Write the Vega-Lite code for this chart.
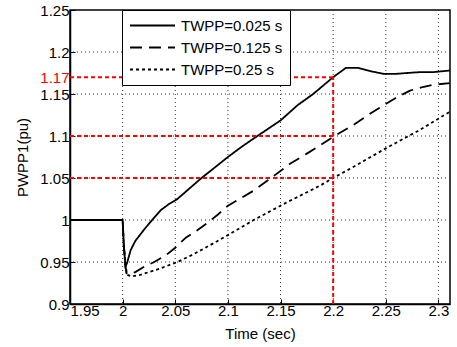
{
  "$schema": "https://vega.github.io/schema/vega-lite/v6.json",
  "width": 380,
  "height": 294,
  "autosize": {"type": "none"},
  "padding": {"left": 70, "top": 10, "right": 7, "bottom": 43},
  "background": "white",
  "config": {
    "view": {"stroke": "black", "strokeWidth": 1.5},
    "font": "Liberation Sans",
    "axis": {
      "grid": false,
      "domainColor": "black",
      "domainWidth": 1.5,
      "tickColor": "black",
      "tickSize": -5,
      "labelFont": "Liberation Sans",
      "labelFontSize": 15,
      "labelColor": "black",
      "labelOverlap": false,
      "titleFont": "Liberation Sans",
      "titleFontSize": 15,
      "titleFontWeight": "normal",
      "titleColor": "black",
      "zindex": 1
    }
  },
  "layer": [
    {
      "data": {"values": [{"gx": 2.0}, {"gx": 2.05}, {"gx": 2.1}, {"gx": 2.15}, {"gx": 2.2}, {"gx": 2.25}, {"gx": 2.3}]},
      "mark": {"type": "rule", "color": "#333333", "strokeWidth": 1, "strokeDash": [1, 3]},
      "encoding": {
        "x": {
          "field": "gx",
          "type": "quantitative",
          "scale": {"domain": [1.95, 2.311], "nice": false, "zero": false},
          "axis": {
            "title": "Time (sec)",
            "values": [1.95, 2, 2.05, 2.1, 2.15, 2.2, 2.25, 2.3],
            "format": ".3~g",
            "labelOverlap": false,
            "labelPadding": 4,
            "titlePadding": 8,
            "labelAlign": {"condition": {"test": "datum.value < 1.96", "value": "left"}, "value": "center"}
          }
        }
      }
    },
    {
      "data": {"values": [{"gy": 0.95}, {"gy": 1.0}, {"gy": 1.05}, {"gy": 1.1}, {"gy": 1.15}, {"gy": 1.2}]},
      "mark": {"type": "rule", "color": "#333333", "strokeWidth": 1, "strokeDash": [1, 3]},
      "encoding": {
        "y": {
          "field": "gy",
          "type": "quantitative",
          "scale": {"domain": [0.9, 1.25], "nice": false, "zero": false},
          "axis": {
            "title": "PWPP1(pu)",
            "values": [0.9, 0.95, 1, 1.05, 1.1, 1.15, 1.17, 1.2, 1.25],
            "format": ".3~g",
            "labelOverlap": false,
            "labelPadding": 6,
            "titlePadding": 9,
            "labelColor": {"condition": {"test": "abs(datum.value - 1.17) < 0.001", "value": "red"}, "value": "black"},
            "tickOpacity": {"condition": {"test": "abs(datum.value - 1.17) < 0.001", "value": 0}, "value": 1}
          }
        }
      }
    },
    {
      "data": {
        "values": [
          {"s": "TWPP=0.025 s", "t": 1.95, "p": 1.0},
          {"s": "TWPP=0.025 s", "t": 2.0, "p": 1.0},
          {"s": "TWPP=0.025 s", "t": 2.001, "p": 0.975},
          {"s": "TWPP=0.025 s", "t": 2.0025, "p": 0.945},
          {"s": "TWPP=0.025 s", "t": 2.004, "p": 0.948},
          {"s": "TWPP=0.025 s", "t": 2.0076, "p": 0.964},
          {"s": "TWPP=0.025 s", "t": 2.012, "p": 0.975},
          {"s": "TWPP=0.025 s", "t": 2.02, "p": 0.988},
          {"s": "TWPP=0.025 s", "t": 2.028, "p": 1.0},
          {"s": "TWPP=0.025 s", "t": 2.036, "p": 1.0115},
          {"s": "TWPP=0.025 s", "t": 2.044, "p": 1.019},
          {"s": "TWPP=0.025 s", "t": 2.052, "p": 1.025},
          {"s": "TWPP=0.025 s", "t": 2.063, "p": 1.037},
          {"s": "TWPP=0.025 s", "t": 2.074, "p": 1.049},
          {"s": "TWPP=0.025 s", "t": 2.087, "p": 1.062},
          {"s": "TWPP=0.025 s", "t": 2.1, "p": 1.075},
          {"s": "TWPP=0.025 s", "t": 2.114, "p": 1.088},
          {"s": "TWPP=0.025 s", "t": 2.128, "p": 1.1},
          {"s": "TWPP=0.025 s", "t": 2.15, "p": 1.1185},
          {"s": "TWPP=0.025 s", "t": 2.166, "p": 1.1365},
          {"s": "TWPP=0.025 s", "t": 2.181, "p": 1.15},
          {"s": "TWPP=0.025 s", "t": 2.2, "p": 1.17},
          {"s": "TWPP=0.025 s", "t": 2.212, "p": 1.181},
          {"s": "TWPP=0.025 s", "t": 2.224, "p": 1.181},
          {"s": "TWPP=0.025 s", "t": 2.236, "p": 1.177},
          {"s": "TWPP=0.025 s", "t": 2.248, "p": 1.174},
          {"s": "TWPP=0.025 s", "t": 2.26, "p": 1.174},
          {"s": "TWPP=0.025 s", "t": 2.27, "p": 1.175},
          {"s": "TWPP=0.025 s", "t": 2.282, "p": 1.176},
          {"s": "TWPP=0.025 s", "t": 2.295, "p": 1.176},
          {"s": "TWPP=0.025 s", "t": 2.311, "p": 1.178},
          {"s": "TWPP=0.125 s", "t": 1.95, "p": 1.0},
          {"s": "TWPP=0.125 s", "t": 2.0, "p": 1.0},
          {"s": "TWPP=0.125 s", "t": 2.001, "p": 0.97},
          {"s": "TWPP=0.125 s", "t": 2.0035, "p": 0.937},
          {"s": "TWPP=0.125 s", "t": 2.006, "p": 0.935},
          {"s": "TWPP=0.125 s", "t": 2.012, "p": 0.938},
          {"s": "TWPP=0.125 s", "t": 2.02, "p": 0.944},
          {"s": "TWPP=0.125 s", "t": 2.03, "p": 0.95},
          {"s": "TWPP=0.125 s", "t": 2.041, "p": 0.958},
          {"s": "TWPP=0.125 s", "t": 2.05, "p": 0.967},
          {"s": "TWPP=0.125 s", "t": 2.06, "p": 0.979},
          {"s": "TWPP=0.125 s", "t": 2.07, "p": 0.987},
          {"s": "TWPP=0.125 s", "t": 2.08, "p": 0.996},
          {"s": "TWPP=0.125 s", "t": 2.09, "p": 1.006},
          {"s": "TWPP=0.125 s", "t": 2.1, "p": 1.017},
          {"s": "TWPP=0.125 s", "t": 2.1245, "p": 1.035},
          {"s": "TWPP=0.125 s", "t": 2.14, "p": 1.049},
          {"s": "TWPP=0.125 s", "t": 2.159, "p": 1.067},
          {"s": "TWPP=0.125 s", "t": 2.175, "p": 1.079},
          {"s": "TWPP=0.125 s", "t": 2.1877, "p": 1.089},
          {"s": "TWPP=0.125 s", "t": 2.2, "p": 1.099},
          {"s": "TWPP=0.125 s", "t": 2.219, "p": 1.113},
          {"s": "TWPP=0.125 s", "t": 2.238, "p": 1.129},
          {"s": "TWPP=0.125 s", "t": 2.259, "p": 1.145},
          {"s": "TWPP=0.125 s", "t": 2.273, "p": 1.154},
          {"s": "TWPP=0.125 s", "t": 2.284, "p": 1.158},
          {"s": "TWPP=0.125 s", "t": 2.295, "p": 1.161},
          {"s": "TWPP=0.125 s", "t": 2.311, "p": 1.163},
          {"s": "TWPP=0.25 s", "t": 1.95, "p": 1.0},
          {"s": "TWPP=0.25 s", "t": 2.0, "p": 1.0},
          {"s": "TWPP=0.25 s", "t": 2.001, "p": 0.97},
          {"s": "TWPP=0.25 s", "t": 2.004, "p": 0.935},
          {"s": "TWPP=0.25 s", "t": 2.008, "p": 0.933},
          {"s": "TWPP=0.25 s", "t": 2.015, "p": 0.934},
          {"s": "TWPP=0.25 s", "t": 2.02, "p": 0.936},
          {"s": "TWPP=0.25 s", "t": 2.035, "p": 0.942},
          {"s": "TWPP=0.25 s", "t": 2.052, "p": 0.95},
          {"s": "TWPP=0.25 s", "t": 2.067, "p": 0.959},
          {"s": "TWPP=0.25 s", "t": 2.083, "p": 0.97},
          {"s": "TWPP=0.25 s", "t": 2.1, "p": 0.982},
          {"s": "TWPP=0.25 s", "t": 2.1245, "p": 1.0},
          {"s": "TWPP=0.25 s", "t": 2.156, "p": 1.021},
          {"s": "TWPP=0.25 s", "t": 2.1877, "p": 1.041},
          {"s": "TWPP=0.25 s", "t": 2.2, "p": 1.05},
          {"s": "TWPP=0.25 s", "t": 2.219, "p": 1.063},
          {"s": "TWPP=0.25 s", "t": 2.251, "p": 1.086},
          {"s": "TWPP=0.25 s", "t": 2.282, "p": 1.107},
          {"s": "TWPP=0.25 s", "t": 2.311, "p": 1.129}
        ]
      },
      "mark": {"type": "line", "color": "black", "strokeWidth": 1.8, "clip": true},
      "encoding": {
        "x": {
          "field": "t",
          "type": "quantitative",
          "scale": {"domain": [1.95, 2.311], "nice": false, "zero": false},
          "axis": {
            "title": "Time (sec)",
            "values": [1.95, 2, 2.05, 2.1, 2.15, 2.2, 2.25, 2.3],
            "format": ".3~g",
            "labelOverlap": false,
            "labelPadding": 4,
            "titlePadding": 8,
            "labelAlign": {"condition": {"test": "datum.value < 1.96", "value": "left"}, "value": "center"}
          }
        },
        "y": {
          "field": "p",
          "type": "quantitative",
          "scale": {"domain": [0.9, 1.25], "nice": false, "zero": false},
          "axis": {
            "title": "PWPP1(pu)",
            "values": [0.9, 0.95, 1, 1.05, 1.1, 1.15, 1.17, 1.2, 1.25],
            "format": ".3~g",
            "labelOverlap": false,
            "labelPadding": 6,
            "titlePadding": 9,
            "labelColor": {"condition": {"test": "abs(datum.value - 1.17) < 0.001", "value": "red"}, "value": "black"},
            "tickOpacity": {"condition": {"test": "abs(datum.value - 1.17) < 0.001", "value": 0}, "value": 1}
          }
        },
        "strokeDash": {
          "field": "s",
          "type": "nominal",
          "scale": {
            "domain": ["TWPP=0.025 s", "TWPP=0.125 s", "TWPP=0.25 s"],
            "range": [[1, 0], [12, 7], [3, 3]]
          },
          "legend": {
            "orient": "none",
            "legendX": 52,
            "legendY": 0,
            "title": null,
            "strokeColor": "black",
            "fillColor": "white",
            "padding": 7,
            "labelFont": "Liberation Sans",
            "labelFontSize": 15,
            "labelColor": "black",
            "symbolType": "M-3,0H3",
            "symbolSize": 225,
            "symbolOffset": 15,
            "labelOffset": 20,
            "symbolStrokeColor": "black",
            "symbolStrokeWidth": 1.8,
            "rowPadding": 5,
            "zindex": 2
          }
        }
      }
    },
    {
      "data": {
        "values": [
          {"x": 1.95, "x2": 2.2, "y": 1.17, "y2": 1.17},
          {"x": 1.95, "x2": 2.2, "y": 1.1, "y2": 1.1},
          {"x": 1.95, "x2": 2.2, "y": 1.05, "y2": 1.05},
          {"x": 2.2, "x2": 2.2, "y": 0.9, "y2": 1.17}
        ]
      },
      "mark": {"type": "rule", "color": "red", "strokeWidth": 2, "strokeDash": [4, 3]},
      "encoding": {
        "x": {
          "field": "x",
          "type": "quantitative",
          "scale": {"domain": [1.95, 2.311], "nice": false, "zero": false},
          "axis": {
            "title": "Time (sec)",
            "values": [1.95, 2, 2.05, 2.1, 2.15, 2.2, 2.25, 2.3],
            "format": ".3~g",
            "labelOverlap": false,
            "labelPadding": 4,
            "titlePadding": 8,
            "labelAlign": {"condition": {"test": "datum.value < 1.96", "value": "left"}, "value": "center"}
          }
        },
        "x2": {"field": "x2"},
        "y": {
          "field": "y",
          "type": "quantitative",
          "scale": {"domain": [0.9, 1.25], "nice": false, "zero": false},
          "axis": {
            "title": "PWPP1(pu)",
            "values": [0.9, 0.95, 1, 1.05, 1.1, 1.15, 1.17, 1.2, 1.25],
            "format": ".3~g",
            "labelOverlap": false,
            "labelPadding": 6,
            "titlePadding": 9,
            "labelColor": {"condition": {"test": "abs(datum.value - 1.17) < 0.001", "value": "red"}, "value": "black"},
            "tickOpacity": {"condition": {"test": "abs(datum.value - 1.17) < 0.001", "value": 0}, "value": 1}
          }
        },
        "y2": {"field": "y2"}
      }
    }
  ]
}
